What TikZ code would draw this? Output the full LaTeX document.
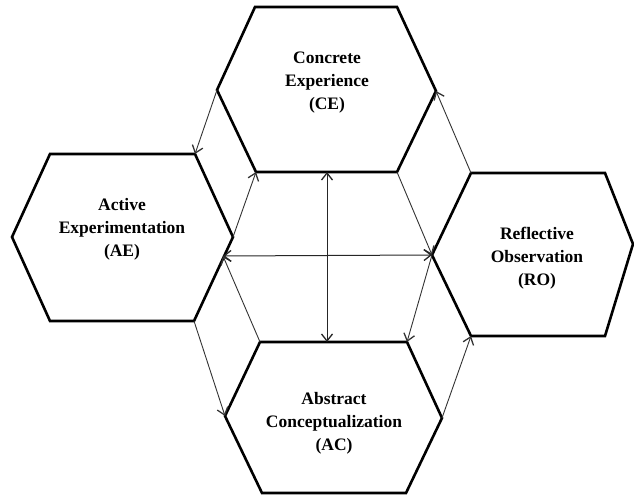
\documentclass[tikz,border=0pt]{standalone}
\usepackage{fontspec}
\setmainfont{Liberation Serif}
\usetikzlibrary{arrows.meta}
\tikzset{
  hexline/.style={line width=2.6pt, line join=miter, black},
  tip/.style={},
  conn/.style={line width=0.9pt, draw=black!80, -{Straight Barb[length=7pt,width=11pt,line width=1.3pt]}},
  dconn/.style={line width=1pt, draw=black!85, {Straight Barb[length=7pt,width=11pt,line width=1.3pt]}-{Straight Barb[length=7pt,width=11pt,line width=1.3pt]}},
  label/.style={align=center, font=\fontsize{17.5}{23}\selectfont\bfseries, inner sep=0pt}
}
\begin{document}
\begin{tikzpicture}[x=1pt,y=-1pt]
\useasboundingbox (0,0) rectangle (634,497);
% CE
\coordinate (ceTL) at (255,7);   \coordinate (ceTR) at (397,7);
\coordinate (ceR)  at (436,91);  \coordinate (ceBR) at (397,172);
\coordinate (ceBL) at (256,172); \coordinate (ceL)  at (217,90);
\coordinate (ceB)  at (327,172);
% AE
\coordinate (aeTL) at (50,154);  \coordinate (aeTR) at (195,154);
\coordinate (aeR)  at (233,237); \coordinate (aeBR) at (194,321);
\coordinate (aeBL) at (50,321);  \coordinate (aeL)  at (12,237);
\coordinate (aeX)  at (223,256);
% RO
\coordinate (roTL) at (471,173); \coordinate (roTR) at (605,173);
\coordinate (roR)  at (633,244); \coordinate (roBR) at (605,336);
\coordinate (roBL) at (471,336); \coordinate (roL)  at (432,255);
% AC
\coordinate (acTL) at (260,342); \coordinate (acTR) at (407,342);
\coordinate (acR)  at (442,418); \coordinate (acBR) at (406,493);
\coordinate (acBL) at (262,493); \coordinate (acL)  at (225,416);
\coordinate (acT)  at (327,342);

\draw[hexline] (ceTL)--(ceTR)--(ceR)--(ceBR)--(ceBL)--(ceL)--cycle;
\draw[hexline] (aeTL)--(aeTR)--(aeR)--(aeBR)--(aeBL)--(aeL)--cycle;
\draw[hexline] (roTL)--(roTR)--(roR)--(roBR)--(roBL)--(roL)--cycle;
\draw[hexline] (acTL)--(acTR)--(acR)--(acBR)--(acBL)--(acL)--cycle;

\node[label] (ce) at (327,83) {Concrete\\Experience\\(CE)};
\node[label] (ae) at (122,229) {Active\\Experimentation\\(AE)};
\node[label] (ro) at (537,258) {Reflective\\Observation\\(RO)};
\node[label] (ac) at (334,423) {Abstract\\Conceptualization\\(AC)};

% connectors
\draw[conn] (ceL) -- (aeTR);
\draw[conn] (roTL) -- (ceR);
\draw[conn] (aeBR) -- (acL);
\draw[conn] (acR) -- (roBL);
\draw[conn] (aeR) -- (ceBL);
\draw[conn] (ceBR) -- (roL);
\draw[conn] (roL) -- (acTR);
\draw[conn] (acTL) -- (aeX);
\draw[dconn] (ceB) -- (acT);
\draw[dconn] (aeX) -- (roL);
\end{tikzpicture}
\end{document}
